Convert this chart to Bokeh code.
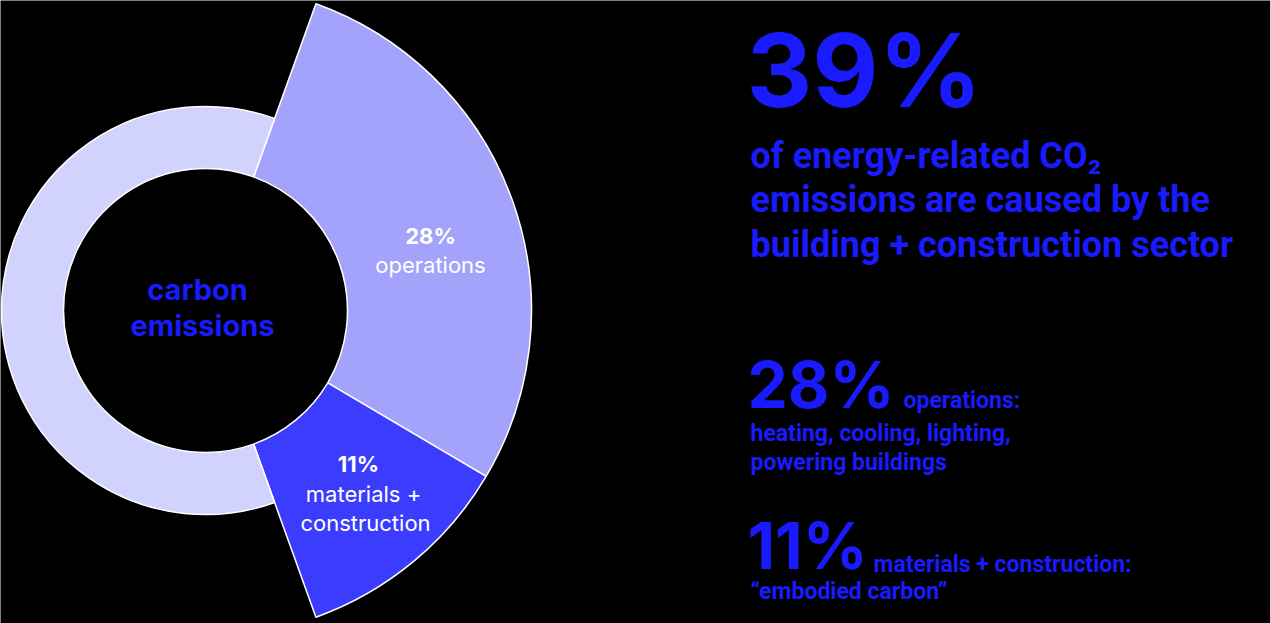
import numpy as np
from bokeh.plotting import figure
from bokeh.models import Range1d, ColumnDataSource
from bokeh.core.properties import value
from bokeh.embed import file_html
from bokeh.resources import INLINE

# ---- data ----
categories = ["operations", "materials + construction", "other"]
shares = [28, 11, 61]          # percent of energy-related CO2 emissions
highlight_total = 39
slice_colors = ["#a3a3fb", "#3c3cff", "#d2d2fe"]

W, H = 1270, 623
BLUE = "#1a1aff"
K = 0.37  # baseline correction factor of the svg text renderer

p = figure(width=W, height=H, x_range=Range1d(0, W), y_range=Range1d(0, H),
           output_backend="svg", toolbar_location=None, min_border=0)
p.axis.visible = False
p.grid.visible = False
p.outline_line_color = None
p.background_fill_color = "black"
p.border_fill_color = "black"

def Y(ypix):
    return H - ypix

def T(xs, ys, texts, size, font="Roboto", bold=False, color=BLUE, align="left"):
    p.text(x=xs, y=[H - (yy - K * size) for yy in ys], text=texts,
           text_font=value(font), text_font_style="bold" if bold else "normal",
           text_font_size=f"{size}px", text_color=color,
           text_align=align, text_baseline="alphabetic")

cx, cy = 205, Y(310)
r_in = 142
r_ring = 204
r_big = 326

# angles: highlighted 39% centred on the right (0 rad), counter-clockwise from +x
deg = np.array(shares) * 3.6
top = highlight_total * 3.6 / 2.0
op_end = top
op_start = op_end - deg[0]
mat_end = op_start
mat_start = mat_end - deg[1]
rest_start = op_end
rest_end = rest_start + deg[2]

src = ColumnDataSource(dict(
    start=np.radians([op_start, mat_start, rest_start]),
    end=np.radians([op_end, mat_end, rest_end]),
    outer=[r_big, r_big, r_ring],
    color=slice_colors,
    cat=categories,
))
p.annular_wedge(x=cx, y=cy, inner_radius=r_in, outer_radius="outer",
                start_angle="start", end_angle="end", direction="anticlock",
                fill_color="color", line_color="white", line_width=1.5,
                source=src)

# centre label
T([197], [300], ["carbon"], 29, font="Inter", bold=True, align="center")
T([202], [336], ["emissions"], 29, font="Inter", bold=True, align="center")

# slice labels
T([430], [244], [f"{shares[0]}%"], 22, font="Inter", bold=True, color="white", align="center")
T([430], [273], [categories[0]], 22, font="Inter", color="white", align="center")
T([358], [472], [f"{shares[1]}%"], 22, font="Inter", bold=True, color="white", align="center")
T([363, 365], [502, 531], ["materials +", "construction"], 22, font="Inter",
  color="white", align="center")

# right column
T([746], [107], [f"{highlight_total}%"], 102, font="Inter", bold=True)
T([750, 750, 750], [169, 213, 258],
  ["of energy-related CO₂", "emissions are caused by the", "building + construction sector"],
  36, font="Roboto", bold=True)

T([747], [408], [f"{shares[0]}%"], 64, font="Inter", bold=True)
T([903], [409], ["operations:"], 23, font="Roboto", bold=True)
T([750, 750], [442, 471], ["heating, cooling, lighting,", "powering buildings"],
  23, font="Roboto", bold=True)

T([747], [569], [f"{shares[1]}%"], 64, font="Inter", bold=True)
T([873], [573], ["materials + construction:"], 23, font="Roboto", bold=True)
T([750], [600], ["“embodied carbon”"], 23, font="Roboto", bold=True)

open("out.html", "w").write(file_html(p, INLINE))
